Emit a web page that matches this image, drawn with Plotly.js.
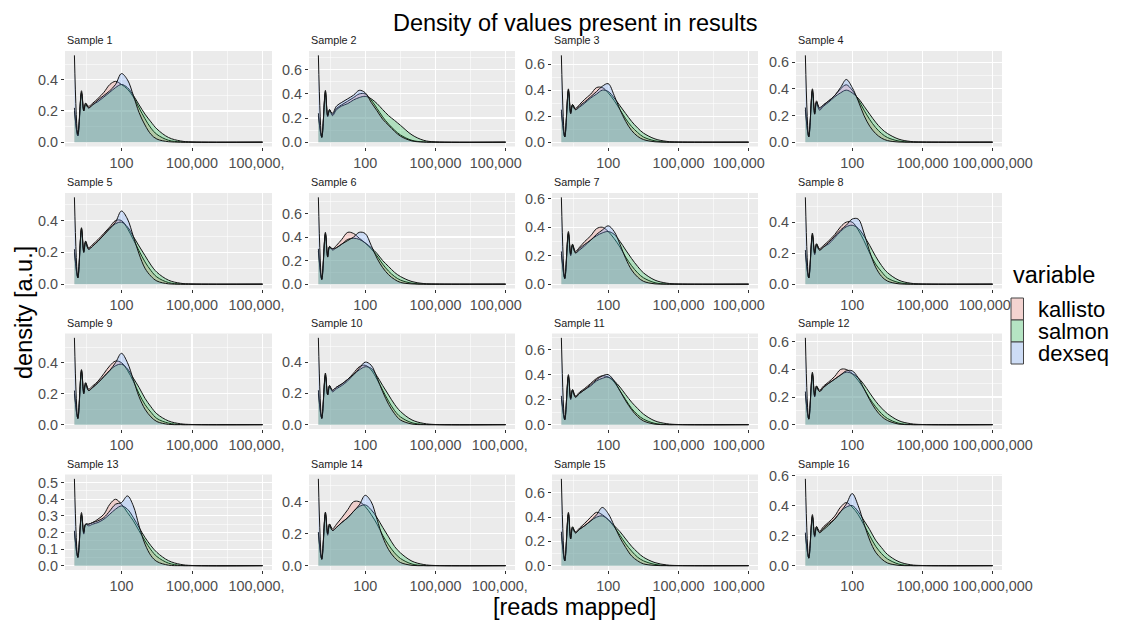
<!DOCTYPE html>
<html><head><meta charset="utf-8">
<script src="https://cdn.plot.ly/plotly-3.0.1.min.js"></script>
<style>html,body{margin:0;padding:0;background:#fff}#chart{width:1121px;height:621px}</style>
</head><body><div id="chart"></div>
<script>
const sampleNames = ['Sample 1','Sample 2','Sample 3','Sample 4','Sample 5','Sample 6','Sample 7','Sample 8',
  'Sample 9','Sample 10','Sample 11','Sample 12','Sample 13','Sample 14','Sample 15','Sample 16'];
const seriesNames = ['kallisto', 'salmon', 'dexseq'];
const seriesColors = [[248,118,109], [0,186,56], [97,156,255]];
const readsMapped = [1, 1.4, 2, 2.5, 3, 4, 6, 10, 18, 32, 56, 100, 180, 320, 560, 1000, 1800, 3200, 10000, 32000, 100000, 100000000];

const kallisto = [
  [.22,.04,.33,.21,.25,.23,.25,.28,.32,.37,.39,.37,.34,.29,.22,.15,.09,.05,.012,.002,0,0],
  [.24,.04,.43,.22,.27,.23,.28,.31,.34,.37,.40,.40,.35,.28,.21,.15,.10,.06,.015,.002,0,0],
  [.25,.04,.41,.23,.29,.26,.29,.33,.37,.42,.42,.38,.32,.25,.18,.12,.075,.04,.01,.001,0,0],
  [.26,.04,.40,.22,.31,.25,.28,.31,.35,.40,.43,.39,.32,.24,.17,.11,.065,.035,.008,.001,0,0],
  [.22,.04,.355,.21,.27,.23,.25,.28,.32,.36,.40,.40,.35,.28,.21,.14,.085,.045,.01,.001,0,0],
  [.30,.04,.44,.24,.32,.30,.33,.38,.44,.43,.39,.35,.30,.24,.17,.11,.065,.035,.008,.001,0,0],
  [.23,.04,.37,.21,.28,.23,.26,.30,.34,.39,.40,.37,.32,.26,.19,.13,.08,.045,.01,.001,0,0],
  [.22,.04,.33,.20,.26,.23,.25,.28,.32,.37,.40,.40,.35,.28,.20,.13,.08,.04,.01,.001,0,0],
  [.22,.04,.355,.21,.27,.23,.25,.28,.33,.38,.41,.40,.35,.28,.20,.13,.08,.04,.01,.001,0,0],
  [.22,.04,.33,.19,.25,.22,.24,.26,.29,.33,.37,.38,.35,.29,.22,.15,.09,.05,.012,.002,0,0],
  [.23,.04,.40,.21,.28,.23,.26,.29,.33,.37,.39,.38,.34,.27,.20,.13,.08,.045,.01,.001,0,0],
  [.24,.04,.38,.21,.28,.25,.28,.31,.35,.40,.40,.37,.32,.26,.19,.13,.08,.045,.01,.001,0,0],
  [.21,.05,.32,.20,.25,.25,.26,.28,.31,.37,.40,.37,.32,.27,.21,.15,.095,.055,.015,.002,0,0],
  [.21,.04,.335,.20,.26,.23,.26,.30,.35,.40,.40,.37,.32,.26,.19,.13,.08,.045,.01,.001,0,0],
  [.28,.04,.44,.23,.32,.28,.31,.35,.40,.44,.42,.38,.32,.25,.18,.12,.07,.04,.01,.001,0,0],
  [.22,.05,.34,.20,.26,.23,.26,.29,.33,.39,.42,.39,.34,.27,.20,.13,.08,.045,.01,.001,0,0]
];
const salmon = [
  [.20,.04,.32,.20,.25,.22,.24,.26,.29,.32,.35,.37,.35,.30,.24,.18,.13,.085,.03,.008,.001,0],
  [.22,.04,.42,.21,.27,.22,.27,.30,.32,.35,.37,.38,.36,.32,.27,.22,.18,.14,.06,.015,.002,0],
  [.23,.04,.40,.22,.29,.25,.27,.30,.34,.37,.40,.39,.34,.28,.22,.16,.11,.07,.025,.006,.001,0],
  [.24,.04,.39,.21,.30,.24,.27,.30,.34,.37,.39,.37,.33,.27,.21,.15,.10,.065,.022,.005,.001,0],
  [.20,.04,.35,.20,.27,.22,.24,.27,.31,.35,.38,.39,.36,.30,.24,.18,.12,.075,.025,.006,.001,0],
  [.28,.04,.43,.23,.32,.29,.31,.34,.38,.39,.38,.35,.31,.26,.20,.15,.10,.065,.022,.005,.001,0],
  [.21,.04,.36,.20,.28,.22,.24,.27,.31,.34,.36,.37,.35,.30,.24,.18,.125,.08,.028,.007,.001,0],
  [.20,.04,.32,.19,.26,.22,.24,.26,.30,.34,.37,.38,.36,.31,.25,.18,.12,.075,.025,.006,.001,0],
  [.20,.04,.35,.20,.27,.22,.24,.27,.31,.35,.38,.39,.36,.30,.24,.17,.115,.07,.024,.006,.001,0],
  [.20,.04,.32,.19,.25,.21,.23,.25,.28,.32,.35,.37,.36,.31,.25,.19,.13,.085,.03,.008,.001,0],
  [.21,.04,.39,.20,.28,.22,.25,.28,.31,.35,.37,.38,.35,.30,.24,.18,.13,.085,.03,.008,.001,0],
  [.22,.04,.37,.20,.28,.24,.27,.30,.33,.36,.38,.37,.34,.29,.23,.17,.12,.08,.028,.007,.001,0],
  [.20,.05,.31,.19,.25,.24,.25,.26,.28,.31,.34,.36,.34,.29,.23,.17,.12,.08,.03,.008,.001,0],
  [.20,.04,.33,.19,.26,.22,.24,.27,.30,.34,.37,.38,.35,.30,.24,.18,.12,.08,.028,.007,.001,0],
  [.26,.04,.43,.22,.32,.27,.30,.33,.37,.40,.41,.38,.33,.28,.22,.16,.11,.07,.025,.006,.001,0],
  [.21,.05,.33,.19,.26,.22,.25,.28,.31,.36,.39,.40,.36,.30,.24,.17,.12,.075,.026,.006,.001,0]
];
const dexseq = [
  [.557,.05,.31,.20,.24,.22,.24,.27,.30,.33,.37,.44,.40,.30,.19,.11,.05,.02,.003,0,0,0],
  [.72,.04,.40,.22,.26,.24,.30,.33,.36,.39,.43,.41,.33,.26,.19,.14,.09,.05,.01,.001,0,0],
  [.668,.04,.39,.22,.28,.25,.28,.31,.35,.39,.43,.45,.36,.25,.16,.09,.045,.02,.003,0,0,0],
  [.651,.04,.38,.21,.30,.26,.28,.31,.35,.41,.47,.41,.31,.20,.12,.065,.03,.012,.001,0,0,0],
  [.546,.04,.34,.20,.26,.22,.24,.27,.31,.35,.39,.46,.41,.30,.19,.10,.05,.02,.002,0,0,0],
  [.737,.04,.42,.23,.31,.30,.31,.34,.37,.40,.44,.43,.33,.22,.14,.08,.04,.015,.002,0,0,0],
  [.61,.04,.35,.21,.27,.22,.25,.28,.31,.35,.38,.41,.37,.28,.18,.10,.05,.02,.002,0,0,0],
  [.56,.04,.31,.20,.25,.22,.24,.27,.31,.35,.38,.42,.42,.33,.21,.11,.05,.02,.002,0,0,0],
  [.56,.04,.34,.20,.26,.22,.24,.27,.31,.35,.40,.46,.40,.29,.18,.10,.05,.02,.002,0,0,0],
  [.555,.04,.31,.19,.24,.22,.24,.26,.29,.32,.36,.40,.38,.30,.21,.13,.07,.03,.004,0,0,0],
  [.694,.04,.38,.21,.27,.22,.25,.28,.32,.36,.39,.40,.35,.27,.19,.12,.065,.03,.004,0,0,0],
  [.629,.04,.36,.21,.27,.24,.27,.30,.33,.36,.39,.39,.34,.26,.18,.11,.06,.03,.004,0,0,0],
  [.523,.05,.30,.20,.25,.25,.26,.27,.29,.33,.37,.38,.42,.36,.24,.13,.06,.025,.003,0,0,0],
  [.543,.04,.32,.20,.25,.22,.24,.27,.30,.34,.38,.44,.40,.29,.18,.10,.05,.02,.002,0,0,0],
  [.716,.04,.42,.22,.31,.27,.30,.33,.37,.42,.48,.43,.33,.23,.15,.08,.04,.015,.002,0,0,0],
  [.578,.05,.32,.20,.25,.22,.24,.27,.31,.36,.41,.48,.40,.28,.17,.09,.045,.018,.002,0,0,0]
];

const xTickVals = [100, 100000, 100000000];
const xTickText = ['100', '100,000'];
// last x tick label as visible in each panel (clipped by the neighbouring panel / legend)
const lastTickShown = [
  '100,000,\u00a0\u00a0\u00a0', '100,000\u00a0\u00a0\u00a0\u00a0\u00a0', '100,000\u00a0\u00a0\u00a0\u00a0\u00a0', '100,000,000',
  '100,000,\u00a0\u00a0\u00a0', '100,000\u00a0\u00a0\u00a0\u00a0\u00a0', '100,000\u00a0\u00a0\u00a0\u00a0\u00a0', '100,000,\u00a0\u00a0\u00a0',
  '100,000,\u00a0\u00a0\u00a0', '100,000,\u00a0\u00a0\u00a0', '100,000\u00a0\u00a0\u00a0\u00a0\u00a0', '100,000,000',
  '100,000,\u00a0\u00a0\u00a0', '100,000,\u00a0\u00a0\u00a0', '100,000\u00a0\u00a0\u00a0\u00a0\u00a0', '100,000,000'
];
const yTickStep = [.2,.2,.2,.2, .2,.2,.2,.2, .2,.2,.2,.2, .1,.2,.2,.2];

const titleText = 'Density of values present in results';
const xTitle = '[reads mapped]';
const yTitle = 'density [a.u.]';
const legendTitle = 'variable';

// ---------- layout geometry (pixels) ----------
const W = 1121, H = 621;
const FONT = 'Liberation Sans, Arial, Helvetica, sans-serif';
const colPx = [[65, 272], [309, 515], [552, 758], [796, 1002]];
const rowPx = [[51, 146.5], [193, 288.5], [333.5, 429], [474.5, 570]];
const series = [kallisto, salmon, dexseq];

const traces = [];
const layout = {
  width: W, height: H,
  margin: {l: 0, r: 0, t: 0, b: 0},
  paper_bgcolor: '#ffffff', plot_bgcolor: '#EBEBEB',
  showlegend: false,
  font: {family: FONT},
  annotations: [], shapes: []
};

for (let i = 0; i < 16; i++) {
  const r = Math.floor(i / 4), c = i % 4;
  const sfx = i === 0 ? '' : String(i + 1);
  let M = 0;
  series.forEach((s, k) => {
    M = Math.max(M, ...s[i]);
    const col = seriesColors[k];
    traces.push({
      type: 'scatter', mode: 'lines',
      x: readsMapped, y: s[i],
      xaxis: 'x' + sfx, yaxis: 'y' + sfx,
      fill: 'tozeroy',
      fillcolor: `rgba(${col[0]},${col[1]},${col[2]},0.25)`,
      line: {color: '#141414', width: 1, shape: 'spline', smoothing: 1},
      hoverinfo: 'skip', name: seriesNames[k]
    });
  });
  const step = yTickStep[i];
  layout['xaxis' + sfx] = {
    domain: [colPx[c][0] / W, colPx[c][1] / W], anchor: 'y' + sfx,
    type: 'log', range: [-0.4, 8.4],
    tickmode: 'array', tickvals: xTickVals, ticktext: [xTickText[0], xTickText[1], lastTickShown[i]],
    tickangle: 0, ticks: 'outside', ticklen: 3, tickwidth: 1, tickcolor: '#333333',
    tickfont: {family: FONT, size: 14.4, color: '#4D4D4D'},
    showgrid: true, gridcolor: '#ffffff', gridwidth: 1.1,
    minor: {tickmode: 'array', tickvals: [Math.pow(10, 0.5), Math.pow(10, 3.5), Math.pow(10, 6.5)],
            showgrid: true, gridcolor: '#ffffff', gridwidth: 0.55, ticks: ''},
    zeroline: false, showline: false, fixedrange: true
  };
  layout['yaxis' + sfx] = {
    domain: [1 - rowPx[r][1] / H, 1 - rowPx[r][0] / H], anchor: 'x' + sfx,
    range: [-0.05 * M, 1.05 * M],
    tickmode: 'linear', tick0: 0, dtick: step, tickformat: '.1f',
    ticks: 'outside', ticklen: 3, tickwidth: 1, tickcolor: '#333333',
    tickfont: {family: FONT, size: 14.4, color: '#4D4D4D'},
    showgrid: true, gridcolor: '#ffffff', gridwidth: 1.1,
    minor: {tickmode: 'linear', tick0: step / 2, dtick: step, showgrid: true, gridcolor: '#ffffff', gridwidth: 0.55, ticks: ''},
    zeroline: false, showline: false, fixedrange: true
  };
  layout.annotations.push({
    xref: 'paper', yref: 'paper', x: colPx[c][0] / W, y: 1 - (rowPx[r][0] - 10.5) / H,
    xanchor: 'left', yanchor: 'middle', showarrow: false, text: sampleNames[i],
    font: {family: FONT, size: 10.8, color: '#1A1A1A'}
  });
}

// titles
layout.annotations.push({xref: 'paper', yref: 'paper', x: 575 / W, y: 1 - 23 / H, xanchor: 'center', yanchor: 'middle',
  showarrow: false, text: titleText, font: {family: FONT, size: 23.5, color: '#000'}});
layout.annotations.push({xref: 'paper', yref: 'paper', x: 575 / W, y: 1 - 607 / H, xanchor: 'center', yanchor: 'middle',
  showarrow: false, text: xTitle, font: {family: FONT, size: 23.5, color: '#000'}});
layout.annotations.push({xref: 'paper', yref: 'paper', x: 24 / W, y: 1 - 313 / H, xanchor: 'center', yanchor: 'middle',
  showarrow: false, textangle: -90, text: yTitle, font: {family: FONT, size: 23.5, color: '#000'}});

// legend (drawn manually as in ggplot)
layout.annotations.push({xref: 'paper', yref: 'paper', x: 1011 / W, y: 1 - 275 / H, xanchor: 'left', yanchor: 'middle',
  showarrow: false, text: legendTitle, font: {family: FONT, size: 23.5, color: '#000'}});
const keyTop = 298, keyH = 22;
seriesNames.forEach((nm, k) => {
  const y0 = keyTop + k * keyH, y1 = y0 + keyH;
  const col = seriesColors[k];
  layout.shapes.push({type: 'rect', xref: 'paper', yref: 'paper', x0: 1011 / W, x1: 1023.5 / W,
    y0: 1 - y1 / H, y1: 1 - y0 / H, fillcolor: '#F2F2F2', line: {width: 0}});
  layout.shapes.push({type: 'rect', xref: 'paper', yref: 'paper', x0: 1011 / W, x1: 1023.5 / W,
    y0: 1 - y1 / H, y1: 1 - y0 / H, fillcolor: `rgba(${col[0]},${col[1]},${col[2]},0.25)`,
    line: {color: '#444444', width: 1}});
  layout.annotations.push({xref: 'paper', yref: 'paper', x: 1036 / W, y: 1 - (y0 + keyH / 2) / H,
    xanchor: 'left', yanchor: 'middle', showarrow: false, text: nm,
    font: {family: FONT, size: 22, color: '#000'}});
});

Plotly.newPlot('chart', traces, layout, {displayModeBar: false, staticPlot: true});
</script>
</body></html>
